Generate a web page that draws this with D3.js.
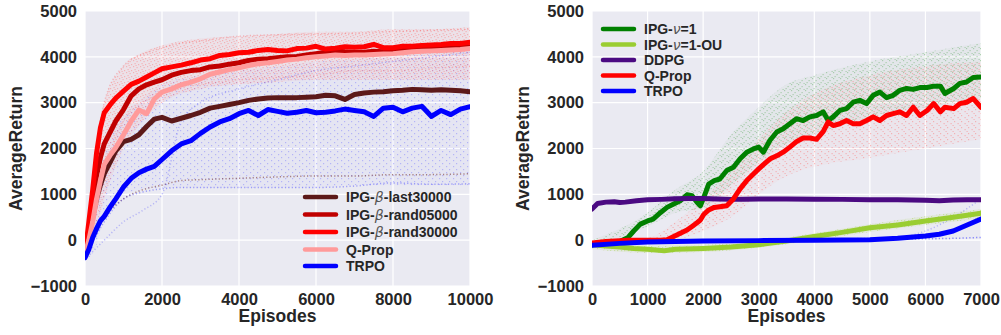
<!DOCTYPE html>
<html><head><meta charset="utf-8">
<script src="https://cdn.jsdelivr.net/npm/d3@7"></script>
<style>
body{margin:0;background:#fff}
svg{display:block}
text{font-family:"Liberation Sans",Arial,sans-serif;font-weight:bold;fill:#262626}
</style>
</head><body>
<svg id="c" width="1001" height="335"></svg>
<script>
// ---------------- LEFT PANEL DATA ----------------
const leftX = [0,100,200,300,400,500,650,800,1000,1200,1400,1600,1800,2000,2250,2500,2750,3000,3250,3500,3750,4000,4250,4500,4750,5000,5250,5500,5750,6000,6250,6500,6750,7000,7250,7500,7750,8000,8250,8500,8750,9000,9250,9500,9750,10000];
const ipgLast30000 = [-300,100,500,900,1200,1450,1700,1950,2150,2200,2300,2480,2640,2680,2600,2660,2720,2790,2880,2920,2960,3000,3050,3080,3100,3110,3110,3110,3120,3130,3160,3150,3070,3180,3210,3230,3240,3260,3270,3290,3280,3270,3280,3270,3260,3240];
const ipgRand05000 = [-300,200,800,1400,1800,2100,2350,2600,2850,3150,3300,3390,3450,3500,3600,3660,3700,3720,3780,3800,3840,3870,3920,3950,3960,3980,4000,4010,4040,4070,4100,4130,4110,4100,4100,4120,4110,4130,4150,4160,4170,4180,4190,4200,4210,4220];
const ipgRand30000 = [-300,400,1100,1900,2450,2780,2950,3100,3250,3400,3470,3560,3650,3740,3780,3820,3870,3930,3960,4030,4050,4090,4100,4140,4160,4140,4130,4180,4190,4230,4170,4190,4220,4210,4220,4270,4200,4200,4230,4230,4250,4260,4270,4290,4290,4320];
const qpropLeft = [-300,0,400,900,1300,1650,1850,2020,2300,2600,2840,2760,3080,3230,3300,3390,3450,3520,3620,3670,3720,3760,3810,3850,3870,3900,3930,3950,3980,4000,4020,4040,4030,4040,4040,4050,4060,4070,4090,4110,4120,4130,4140,4150,4160,4180];
const trpoLeft = [-380,-200,60,250,420,520,720,900,1160,1350,1470,1550,1610,1760,1950,2100,2170,2330,2470,2580,2650,2760,2830,2720,2850,2810,2770,2790,2830,2780,2790,2820,2860,2830,2800,2700,2880,2900,2800,2880,2920,2700,2830,2740,2860,2910];

// faint per-run clouds (left)
const leftBandX = [0,300,500,1000,1500,2000,3000,4000,5000,6000,7000,8000,9000,10000];
const redBandLow  = [-400,300,900,2000,2600,3000,3300,3400,3450,3500,3500,3500,3500,3500];
const redBandHigh = [-200,2200,3000,3800,4100,4250,4400,4450,4500,4550,4550,4600,4600,4650];
const blueBandLow  = [-450,-100,500,1000,1100,1150,1150,1150,1150,1150,1200,1200,1200,1200];
const blueBandHigh = [-300,1000,1800,2700,3100,3400,3600,3700,3800,3900,3950,4000,4100,4150];
const runX = [0,500,1000,1500,2000,2500,3000,4000,5000,6000,7000,8000,9000,10000];
const brownRun = [-300,500,900,1100,1200,1300,1320,1350,1380,1400,1400,1430,1430,1450];
const blueRunA = [-400,400,900,1050,1120,1150,1150,1150,1150,1150,1180,1250,1220,1230];
const blueRunB = [-420,0,400,650,1000,2600,3000,3300,3500,3700,3800,3900,4000,4100];
const redRunHigh = [-300,3000,3800,4050,4200,4300,4350,4450,4480,4500,4520,4550,4580,4600];
const redRunLow = [-300,1500,2600,3000,3200,3350,3400,3500,3550,3600,3700,3700,3750,3800];

// ---------------- RIGHT PANEL DATA ----------------
const rightX = [0,250,500,650,750,870,1000,1100,1230,1350,1470,1590,1710,1800,1890,1950,2010,2100,2200,2300,2425,2545,2665,2785,2905,3000,3085,3200,3325,3440,3560,3680,3800,3920,4040,4160,4250,4340,4460,4580,4700,4820,4940,5060,5180,5300,5420,5540,5660,5780,5900,6030,6150,6270,6350,6510,6620,6740,6860,7000];
const ipgNu1 = [-100,-70,-30,60,200,350,420,460,600,715,790,860,990,970,825,750,930,1225,1300,1335,1520,1590,1775,1920,1990,2030,1920,2175,2360,2430,2540,2650,2610,2690,2720,2800,2610,2690,2830,2870,3010,3050,2980,3160,3230,3110,3160,3270,3310,3290,3330,3330,3360,3360,3200,3310,3420,3450,3550,3560];
const qpropRight = [-60,-30,-10,0,0,0,0,0,0,10,80,150,220,300,380,440,560,660,715,730,750,900,1120,1300,1445,1555,1650,1770,1840,1920,2030,2150,2230,2230,2200,2370,2580,2500,2540,2610,2540,2540,2610,2690,2610,2720,2760,2800,2720,2900,2720,2830,2980,2800,2900,2870,2980,3010,3090,2900];
const ddpgX = [0,100,250,400,500,600,800,1000,1250,1500,1750,2000,2250,2500,2750,3000,3500,4000,4500,5000,5500,6000,6250,6500,6750,7000];
const ddpg = [680,800,830,840,820,830,860,880,890,905,910,910,900,890,895,900,900,895,890,880,880,870,860,875,880,880];
const ouX = [0,250,500,750,1000,1300,1500,2000,2500,3000,3500,4000,4500,5000,5500,6000,6500,7000];
const ipgNu1OU = [-100,-130,-150,-180,-200,-230,-200,-180,-150,-100,-20,80,170,270,330,420,500,590];
const trpoRX = [0,500,1000,2000,3000,4000,5000,5500,6000,6250,6500,6750,7000];
const trpoRight = [-110,-70,-40,-20,-10,0,10,40,90,130,200,330,460];

const rBandX = [0,1000,1500,2000,2500,3000,3500,4000,5000,6000,7000];
const greenBandLow  = [-150,300,600,700,1200,1700,2100,2300,2700,2900,3100];
const greenBandHigh = [0,600,1100,1500,2300,2900,3400,3600,3900,4100,4300];
const redRBandLow  = [-100,-50,0,200,500,1000,1400,1600,1800,2000,2200];
const redRBandHigh = [0,50,400,900,1500,2200,2800,3200,3600,3800,3900];
const ouBandX = [0,1000,2000,3000,4000,5000,6000,7000];
const ouBandLow = [-200,-280,-260,-160,0,180,330,480];
const ouBandHigh = [-50,-120,-100,-30,150,350,520,680];
const trpoRunX = [0,3000,5500,6000,6500,7000];
const trpoRun = [-100,0,20,30,40,60];
const trpoRunHigh = [-100,0,60,200,500,900];

const yTicks = [-1000,0,1000,2000,3000,4000,5000];
const leftXTicks = [0,2000,4000,6000,8000,10000];
const rightXTicks = [0,1000,2000,3000,4000,5000,6000,7000];

const leftSeries = [
  {name:"IPG-|β|-last30000", x:leftX, y:ipgLast30000, color:"#5c1919"},
  {name:"IPG-|β|-rand05000", x:leftX, y:ipgRand05000, color:"#c00000"},
  {name:"IPG-|β|-rand30000", x:leftX, y:ipgRand30000, color:"#ff0000"},
  {name:"Q-Prop", x:leftX, y:qpropLeft, color:"#ff9a9a"},
  {name:"TRPO", x:leftX, y:trpoLeft, color:"#0000ff"}
];
const rightSeries = [
  {name:"IPG-|ν|=1", x:rightX, y:ipgNu1, color:"#008000"},
  {name:"IPG-|ν|=1-OU", x:ouX, y:ipgNu1OU, color:"#9acd32"},
  {name:"DDPG", x:ddpgX, y:ddpg, color:"#4b0a82"},
  {name:"Q-Prop", x:rightX, y:qpropRight, color:"#ff0000"},
  {name:"TRPO", x:trpoRX, y:trpoRight, color:"#0000ff"}
];

const svg = d3.select("#c");
const defs = svg.append("defs");
// speckle patterns to imitate scattered per-run points
function speckle(id, color, pts){
  const p = defs.append("pattern").attr("id",id).attr("patternUnits","userSpaceOnUse").attr("width",7).attr("height",6);
  pts.forEach(q=>p.append("rect").attr("x",q[0]).attr("y",q[1]).attr("width",1.2).attr("height",1.2).attr("fill",color));
}
speckle("spRed","#ff5a5a",[[0,0],[3.5,1],[1.5,3],[5,4],[2.5,5]]);
speckle("spBlue","#5a5aff",[[1,1],[5,4]]);
speckle("spGreen","#3c9a3c",[[0,0],[3.5,2],[1.5,4],[5.5,5]]);
speckle("spRedR","#ff5050",[[2,1],[5.5,3],[0.5,5]]);
speckle("spOU","#9acd32",[[0,0],[2,2],[4,1],[5,4],[1,4]]);

function panel(o){
  const x = d3.scaleLinear().domain(o.xDomain).range([o.left, o.right]);
  const y = d3.scaleLinear().domain([-1000,5000]).range([286, 11]);
  const g = svg.append("g");
  g.append("rect").attr("x",o.left).attr("y",11).attr("width",o.right-o.left).attr("height",275).attr("fill","#eaeaf2");
  g.selectAll(".gx").data(o.xTicks).join("line").attr("x1",d=>x(d)).attr("x2",d=>x(d)).attr("y1",11).attr("y2",286).attr("stroke","#fff").attr("stroke-width",1.2);
  g.selectAll(".gy").data(yTicks).join("line").attr("x1",o.left).attr("x2",o.right).attr("y1",d=>y(d)).attr("y2",d=>y(d)).attr("stroke","#fff").attr("stroke-width",1.2);

  const clip = "clip"+o.id;
  svg.append("clipPath").attr("id",clip).append("rect").attr("x",o.left).attr("y",11).attr("width",o.right-o.left).attr("height",275);
  const pg = g.append("g").attr("clip-path",`url(#${clip})`);

  // bands (speckled clouds)
  o.bands.forEach(b=>{
    const area = d3.area().x((d,i)=>x(b.x[i])).y0((d,i)=>y(b.lo[i])).y1((d,i)=>y(b.hi[i])).curve(d3.curveMonotoneX);
    pg.append("path").attr("d",area(b.x)).attr("fill",b.tint).attr("opacity",b.tintOp);
    pg.append("path").attr("d",area(b.x)).attr("fill",`url(#${b.pat})`).attr("opacity",b.op);
  });
  // dotted runs
  o.runs.forEach(r=>{
    const line = d3.line().x((d,i)=>x(r.x[i])).y((d,i)=>y(r.y[i])).curve(d3.curveMonotoneX);
    pg.append("path").attr("d",line(r.x)).attr("fill","none").attr("stroke",r.color).attr("stroke-width",1.5)
      .attr("stroke-dasharray","1.2,2.2").attr("opacity",r.op);
  });
  // main lines
  o.series.forEach(s=>{
    const line = d3.line().x((d,i)=>x(s.x[i])).y((d,i)=>y(s.y[i]));
    pg.append("path").attr("d",line(s.x)).attr("fill","none").attr("stroke",s.color).attr("stroke-width",5)
      .attr("stroke-linejoin","round").attr("stroke-linecap","round");
  });

  // axes
  const fmt = d3.format("d");
  const ya = g.append("g").attr("transform",`translate(${o.left},0)`).call(d3.axisLeft(y).tickValues(yTicks).tickSize(0).tickPadding(8).tickFormat(fmt));
  const xa = g.append("g").attr("transform",`translate(0,286)`).call(d3.axisBottom(x).tickValues(o.xTicks).tickSize(0).tickPadding(7).tickFormat(fmt));
  [ya,xa].forEach(a=>{a.select(".domain").remove(); a.selectAll("text").attr("font-size",16.5).attr("fill","#262626").attr("font-family","Liberation Sans, Arial, sans-serif").attr("font-weight","bold");});

  g.append("text").attr("x",(o.left+o.right)/2).attr("y",322).attr("text-anchor","middle").attr("font-size",17.5).text("Episodes");
  g.append("text").attr("transform",`translate(${o.ylabX},148.5) rotate(-90)`).attr("text-anchor","middle").attr("font-size",17.5).text("AverageReturn");

  // legend
  o.series.forEach((s,i)=>{
    const yy = o.legY[i];
    g.append("line").attr("x1",o.legX).attr("x2",o.legX+31).attr("y1",yy).attr("y2",yy).attr("stroke",s.color).attr("stroke-width",4.5).attr("stroke-linecap","round");
    const t = g.append("text").attr("x",o.legX+41).attr("y",yy+5).attr("font-size",14);
    s.name.split("|").forEach((part,k)=>{
      const ts = t.append("tspan").text(part);
      if(k===1) ts.attr("font-family","DejaVu Sans").attr("font-style","italic").attr("font-weight","normal").attr("fill","#555");
    });
  });
}

panel({
  id:"L", left:85, right:470, xDomain:[0,10000], xTicks:leftXTicks, ylabX:22,
  series:leftSeries,
  bands:[
    {x:leftBandX, lo:blueBandLow, hi:blueBandHigh, tint:"#8080ff", tintOp:0.04, pat:"spBlue", op:0.35},
    {x:leftBandX, lo:redBandLow, hi:redBandHigh, tint:"#ff9090", tintOp:0.10, pat:"spRed", op:0.35}
  ],
  runs:[
    {x:runX, y:brownRun, color:"#7a3a3a", op:0.6},
    {x:runX, y:blueRunA, color:"#4040ff", op:0.45},
    {x:runX, y:blueRunB, color:"#4040ff", op:0.3},
    {x:runX, y:redRunHigh, color:"#ff4040", op:0.3},
    {x:runX, y:redRunLow, color:"#ff6060", op:0.25}
  ],
  legX:305, legY:[197,214.5,232,249.5,266]
});
panel({
  id:"R", left:592, right:981, xDomain:[0,7000], xTicks:rightXTicks, ylabX:529,
  series:rightSeries,
  bands:[
    {x:rBandX, lo:greenBandLow, hi:greenBandHigh, tint:"#60a060", tintOp:0.05, pat:"spGreen", op:0.35},
    {x:rBandX, lo:redRBandLow, hi:redRBandHigh, tint:"#ff8080", tintOp:0.05, pat:"spRedR", op:0.35},
    {x:ouBandX, lo:ouBandLow, hi:ouBandHigh, tint:"#9acd32", tintOp:0.10, pat:"spOU", op:0.35}
  ],
  runs:[
    {x:trpoRunX, y:trpoRun, color:"#4040ff", op:0.6},
    {x:trpoRunX, y:trpoRunHigh, color:"#4040ff", op:0.3}
  ],
  legX:603, legY:[29,44.5,60,75.5,91]
});
</script>
</body></html>
